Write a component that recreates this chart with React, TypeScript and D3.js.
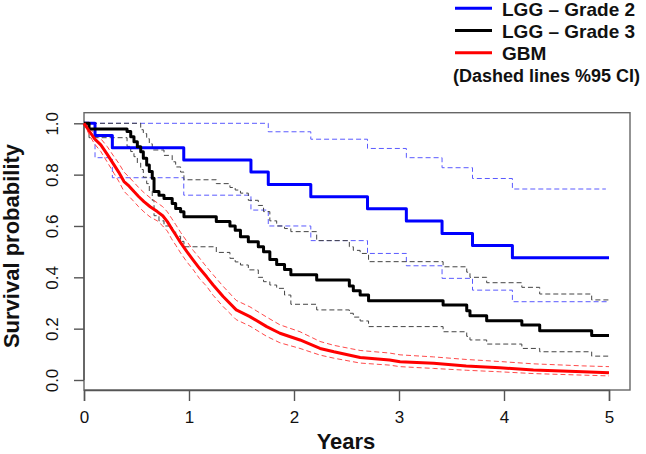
import React, { useEffect, useRef } from 'react';
import * as d3 from 'd3';

// LGG - Grade 2 (Kaplan-Meier, with 95% CI)
const g2Times = [0, 0.105, 0.27, 0.95, 1.59, 1.755, 2.16, 2.7, 3.07, 3.41, 3.7, 4.08, 5.0];
const g2Surv = [1.0, 0.952, 0.905, 0.857, 0.81, 0.762, 0.714, 0.667, 0.619, 0.571, 0.524, 0.476, 0.476];
const g2UpperTimes = [0, 1.755, 2.16, 2.7, 3.07, 3.41, 3.7, 4.08, 4.97];
const g2Upper = [1.0, 0.967, 0.938, 0.902, 0.866, 0.827, 0.785, 0.744, 0.744];
const g2Lower = [1.0, 0.866, 0.788, 0.72, 0.662, 0.6, 0.543, 0.493, 0.445, 0.396, 0.35, 0.305, 0.305];

// LGG - Grade 3
const g3Times = [0, 0.048, 0.41, 0.445, 0.476, 0.508, 0.54, 0.565, 0.597, 0.622, 0.65, 0.667, 0.714, 0.762, 0.84, 0.873, 0.92, 0.952,
  1.26, 1.39, 1.44, 1.49, 1.565, 1.66, 1.71, 1.77, 1.835, 1.91, 1.97, 2.216, 2.527, 2.565, 2.63, 2.71, 3.42, 3.645, 3.676, 3.835, 4.17, 4.34, 4.835, 5.0];
const g3Surv = [1.0, 0.978, 0.968, 0.948, 0.928, 0.909, 0.889, 0.864, 0.838, 0.812, 0.786, 0.734, 0.72, 0.707, 0.688, 0.668, 0.655, 0.636,
  0.617, 0.6, 0.583, 0.558, 0.539, 0.519, 0.5, 0.469, 0.45, 0.43, 0.41, 0.39, 0.366, 0.348, 0.331, 0.309, 0.292, 0.27, 0.25, 0.231, 0.214, 0.192, 0.173, 0.173];
const g3Upper = [1.0, 1.0, 1.0, 1.0, 1.0, 1.0, 0.975, 0.96, 0.94, 0.92, 0.896, 0.896, 0.896, 0.875, 0.85, 0.83, 0.81, 0.78,
  0.765, 0.75, 0.74, 0.728, 0.7, 0.68, 0.656, 0.62, 0.6, 0.59, 0.578, 0.543, 0.519, 0.505, 0.493, 0.461, 0.441, 0.42, 0.4, 0.379, 0.361, 0.335, 0.312, 0.312];
const g3Lower = [1.0, 0.944, 0.91, 0.89, 0.87, 0.845, 0.82, 0.79, 0.765, 0.735, 0.7, 0.64, 0.62, 0.6, 0.58, 0.56, 0.54, 0.519,
  0.497, 0.474, 0.46, 0.448, 0.429, 0.4, 0.383, 0.37, 0.357, 0.331, 0.295, 0.273, 0.26, 0.245, 0.23, 0.208, 0.188, 0.17, 0.156, 0.14, 0.123, 0.11, 0.093, 0.093];

// GBM (many small steps, drawn as a dense line)
const gbmTimes = [0, 0.05, 0.1, 0.16, 0.22, 0.286, 0.33, 0.381, 0.43, 0.476, 0.52, 0.571, 0.63, 0.698, 0.75, 0.794, 0.834, 0.874, 0.92, 0.98,
  1.04, 1.1, 1.168, 1.23, 1.325, 1.45, 1.58, 1.74, 1.866, 2.057, 2.248, 2.38, 2.63, 2.91, 3.01, 3.33, 3.64, 3.96, 4.28, 4.75, 5.0];
const gbmSurv = [1.0, 0.97, 0.94, 0.916, 0.88, 0.838, 0.81, 0.773, 0.755, 0.734, 0.715, 0.695, 0.675, 0.656, 0.64, 0.617, 0.59, 0.565, 0.535, 0.5,
  0.467, 0.435, 0.402, 0.37, 0.325, 0.273, 0.247, 0.208, 0.182, 0.156, 0.123, 0.11, 0.088, 0.078, 0.071, 0.065, 0.055, 0.048, 0.039, 0.032, 0.028];
const gbmUpper = [1.0, 0.985, 0.96, 0.94, 0.91, 0.87, 0.845, 0.81, 0.79, 0.77, 0.75, 0.73, 0.71, 0.69, 0.675, 0.655, 0.63, 0.605, 0.575, 0.54,
  0.505, 0.475, 0.44, 0.41, 0.365, 0.31, 0.285, 0.245, 0.215, 0.188, 0.15, 0.135, 0.115, 0.105, 0.098, 0.09, 0.08, 0.072, 0.063, 0.055, 0.052];
const gbmLower = [1.0, 0.955, 0.92, 0.89, 0.85, 0.805, 0.775, 0.735, 0.715, 0.695, 0.675, 0.655, 0.635, 0.62, 0.6, 0.58, 0.55, 0.525, 0.495, 0.46,
  0.43, 0.395, 0.365, 0.33, 0.286, 0.235, 0.21, 0.17, 0.145, 0.123, 0.097, 0.085, 0.066, 0.058, 0.052, 0.045, 0.038, 0.032, 0.025, 0.019, 0.016];

const xTicks = [0, 1, 2, 3, 4, 5];
const yTicks = [0, 0.2, 0.4, 0.6, 0.8, 1.0];

const legendLabels = ['LGG \u2013 Grade 2', 'LGG \u2013 Grade 3', 'GBM'];
const legendColors = ['#0000ff', '#000000', '#ff0000'];
const legendNote = '(Dashed lines %95 CI)';

const FONT = '"Liberation Sans", Arial, Helvetica, sans-serif';

function zip(times: number[], vals: number[]): [number, number][] {
  return times.map((t, i) => [t, vals[i]]);
}

function SurvivalChart() {
  const ref = useRef<SVGSVGElement>(null);

  useEffect(() => {
    const svg = d3.select(ref.current);
    svg.selectAll('*').remove();

    const x = d3.scaleLinear().domain([0, 5]).range([84, 609]);
    const y = d3.scaleLinear().domain([0, 1]).range([380, 123.3]);

    const stepLine = d3.line<[number, number]>()
      .x((d) => x(d[0]))
      .y((d) => y(d[1]))
      .curve(d3.curveStepAfter);
    const denseLine = d3.line<[number, number]>()
      .x((d) => x(d[0]))
      .y((d) => y(d[1]));

    // plot frame
    svg.append('rect')
      .attr('x', 84).attr('y', 112.7).attr('width', 546).attr('height', 277.3)
      .attr('fill', 'none').attr('stroke', '#666').attr('stroke-width', 1.4);

    // x axis
    const xAxis = d3.axisBottom(x).tickValues(xTicks).tickFormat(d3.format('d')).tickSize(11).tickPadding(10);
    const gx = svg.append('g').attr('transform', 'translate(0,390)').call(xAxis);
    gx.select('.domain').attr('stroke', '#555').attr('stroke-width', 1.4);
    gx.selectAll('.tick line').attr('stroke', '#555').attr('stroke-width', 1.4);
    gx.selectAll('.tick text').attr('font-size', 17).attr('font-family', FONT).attr('fill', '#111');

    // y axis
    const yAxis = d3.axisLeft(y).tickValues(yTicks).tickFormat(d3.format('.1f')).tickSize(10).tickPadding(0);
    const gy = svg.append('g').attr('transform', 'translate(84,0)').call(yAxis);
    gy.select('.domain').remove();
    gy.append('line').attr('x1', 0).attr('x2', 0).attr('y1', y(0)).attr('y2', y(1))
      .attr('stroke', '#555').attr('stroke-width', 1.4);
    gy.selectAll('.tick line').attr('stroke', '#555').attr('stroke-width', 1.4);
    gy.selectAll('.tick text')
      .attr('font-size', 17).attr('font-family', FONT).attr('fill', '#111')
      .attr('x', null).attr('dy', null)
      .attr('text-anchor', 'middle')
      .attr('transform', 'translate(-26,0) rotate(-90)')
      .attr('y', 0);

    // axis titles
    svg.append('text')
      .attr('x', 346).attr('y', 449)
      .attr('text-anchor', 'middle')
      .attr('font-family', FONT).attr('font-weight', 'bold').attr('font-size', 22)
      .attr('fill', '#111')
      .text('Years');
    svg.append('text')
      .attr('transform', 'translate(18.5,246) rotate(-90)')
      .attr('text-anchor', 'middle')
      .attr('font-family', FONT).attr('font-weight', 'bold').attr('font-size', 22)
      .attr('fill', '#111')
      .text('Survival probability');

    const curves = svg.append('g');
    const dashed = (d: string | null, color: string) =>
      curves.append('path').attr('d', d)
        .attr('fill', 'none').attr('stroke', color).attr('stroke-width', 1)
        .attr('stroke-dasharray', '5,3');
    const solid = (d: string | null, color: string) =>
      curves.append('path').attr('d', d)
        .attr('fill', 'none').attr('stroke', color).attr('stroke-width', 3)
        .attr('stroke-linejoin', 'round');

    dashed(stepLine(zip(g2UpperTimes, g2Upper)), '#5a5aff');
    dashed(stepLine(zip(g2Times, g2Lower)), '#5a5aff');
    dashed(stepLine(zip(g3Times, g3Upper)), '#444');
    dashed(stepLine(zip(g3Times, g3Lower)), '#444');
    dashed(denseLine(zip(gbmTimes, gbmUpper)), '#ff4a4a');
    dashed(denseLine(zip(gbmTimes, gbmLower)), '#ff4a4a');
    solid(stepLine(zip(g2Times, g2Surv)), '#0000ff');
    solid(stepLine(zip(g3Times, g3Surv)), '#000000');
    solid(denseLine(zip(gbmTimes, gbmSurv)), '#ff0000');

    // legend
    const legY = d3.scalePoint<number>().domain([0, 1, 2]).range([8.3, 52.7]);
    const leg = svg.append('g').selectAll('g').data(legendLabels).enter().append('g');
    leg.append('line')
      .attr('x1', 455).attr('x2', 492)
      .attr('y1', (d, i) => legY(i) as number).attr('y2', (d, i) => legY(i) as number)
      .attr('stroke', (d, i) => legendColors[i]).attr('stroke-width', 3);
    leg.append('text')
      .attr('x', 502).attr('y', (d, i) => (legY(i) as number) + 7.5)
      .attr('font-family', FONT).attr('font-weight', 'bold').attr('font-size', 19)
      .attr('fill', '#111')
      .text((d) => d);
    svg.append('text')
      .attr('x', 453).attr('y', 81.7)
      .attr('font-family', FONT).attr('font-weight', 'bold').attr('font-size', 18)
      .attr('fill', '#111')
      .text(legendNote);
  }, []);

  return (
    <svg
      ref={ref}
      width={646}
      height={454}
      style={{ position: 'absolute', left: 0, top: 0, background: '#fff' }}
    />
  );
}

export default function App() {
  return <SurvivalChart />;
}
